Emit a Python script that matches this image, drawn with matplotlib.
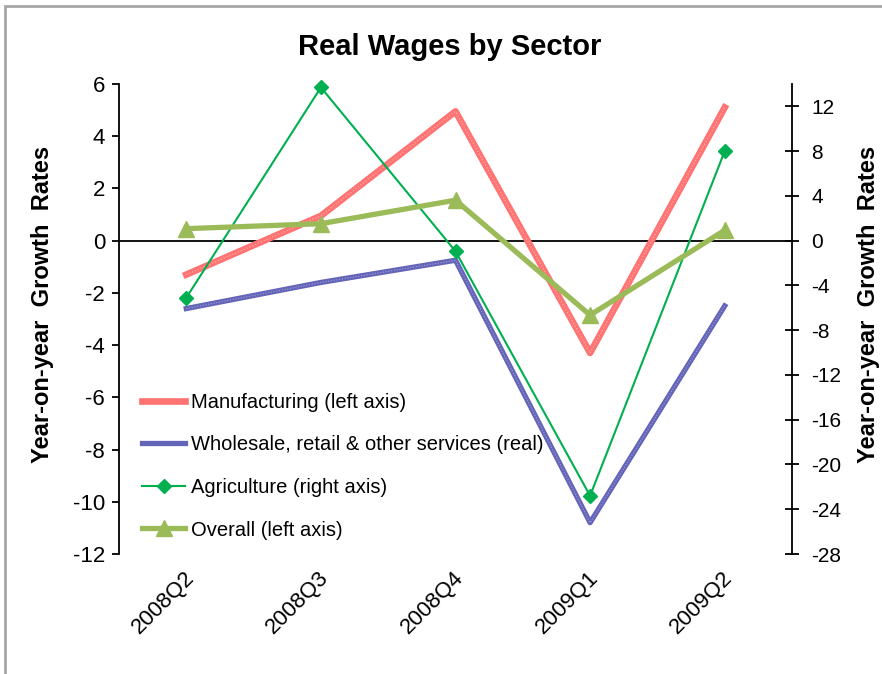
import matplotlib
matplotlib.use("Agg")
import matplotlib.pyplot as plt
import matplotlib.transforms as mtransforms
from matplotlib.patches import Rectangle

plt.rcParams['font.family'] = ['Liberation Sans', 'DejaVu Sans']
plt.rcParams['axes.unicode_minus'] = False

quarters = ['2008Q2', '2008Q3', '2008Q4', '2009Q1', '2009Q2']
manufacturing = [-1.3, 0.95, 4.95, -4.3, 5.1]
wholesale = [-2.6, -1.6, -0.75, -10.8, -2.5]
agriculture = [-5.1, 13.7, -0.95, -22.8, 8.0]   # right axis
overall = [0.46, 0.65, 1.55, -2.85, 0.4]

left_ticks = [6, 4, 2, 0, -2, -4, -6, -8, -10, -12]
right_ticks = [12, 8, 4, 0, -4, -8, -12, -16, -20, -24, -28]

fig = plt.figure(figsize=(8.82, 6.74), dpi=100)
ax = fig.add_axes([119/882, 1 - 554/674, 673/882, 470/674])
ax2 = ax.twinx()
x = list(range(len(quarters)))

ax.set_xlim(-0.5, 4.5)
ax.set_ylim(-12, 6)
ax2.set_ylim(-28, 14)

# category axis sits on zero
ax.axhline(0, color='black', lw=1.3, zorder=1)

ax.plot(x, wholesale, color='#6464b8', lw=3.8, zorder=2,
        label='Wholesale, retail & other services (real)')
ax.plot(x, wholesale, color='white', lw=0.8, ls=(0, (1, 1.5)), alpha=0.4, zorder=2)
ax.plot(x, manufacturing, color='#ff7373', lw=4.8, zorder=3,
        label='Manufacturing (left axis)')
ax.plot(x, manufacturing, color='white', lw=0.9, ls=(0, (1, 1.5)), alpha=0.4, zorder=3)
ax.plot(x, agriculture, color='#00b050', lw=1.5, marker='D', ms=7, zorder=4,
        transform=ax2.transData, clip_on=False, label='Agriculture (right axis)')
ax.plot(x, overall, color='#9bbb59', lw=3.8, marker='^', ms=12, zorder=5,
        clip_on=False, label='Overall (left axis)')

h, l = ax.get_legend_handles_labels()
order = [1, 0, 2, 3]
ax.legend([h[i] for i in order], [l[i] for i in order], loc='upper left',
          bbox_to_anchor=(0.022, 0.36), frameon=False, fontsize=14.5,
          handlelength=2.15, handletextpad=0.3, labelspacing=1.17, borderaxespad=0)

for a in (ax, ax2):
    a.spines['top'].set_visible(False)
    a.spines['bottom'].set_visible(False)
ax2.spines['left'].set_visible(False)
ax.spines['right'].set_visible(False)
ax.spines['left'].set_linewidth(1.3)
ax2.spines['right'].set_linewidth(1.3)

ax.set_yticks(left_ticks)
ax.tick_params(axis='y', direction='out', length=5, width=1.3, labelsize=16, pad=5)
ax2.set_yticks(right_ticks)
ax2.tick_params(axis='y', direction='inout', length=10, width=1.3, labelsize=15, pad=9)

ax.set_xticks(x)
ax.set_xticklabels(quarters)
ax.tick_params(axis='x', length=0, labelsize=16, pad=15)
shift = mtransforms.ScaledTranslation(5/100, 0, fig.dpi_scale_trans)
for t in ax.get_xticklabels():
    t.set_rotation(45)
    t.set_ha('right')
    t.set_va('center')
    t.set_rotation_mode('anchor')
    t.set_transform(t.get_transform() + shift)

ax.set_ylabel('Year-on-year  Growth  Rates', fontsize=17, fontweight='bold')
ax2.set_ylabel('Year-on-year  Growth  Rates', fontsize=17, fontweight='bold')
ax.yaxis.set_label_coords(-0.096, 0.53)
ax2.yaxis.set_label_coords(1.096, 0.53)

fig.text(450/882, 1 - 47/674, 'Real Wages by Sector', ha='center', va='center',
         fontsize=21, fontweight='bold',
         family=['Liberation Sans Narrow', 'Liberation Sans'])

# chart area border
fig.patches.append(Rectangle((5/882, -0.05), 1.1, 1 - 6/674 + 0.05,
                             transform=fig.transFigure, fill=False,
                             edgecolor='#a6a6a6', lw=2))

fig.savefig('out.png', dpi=100)
